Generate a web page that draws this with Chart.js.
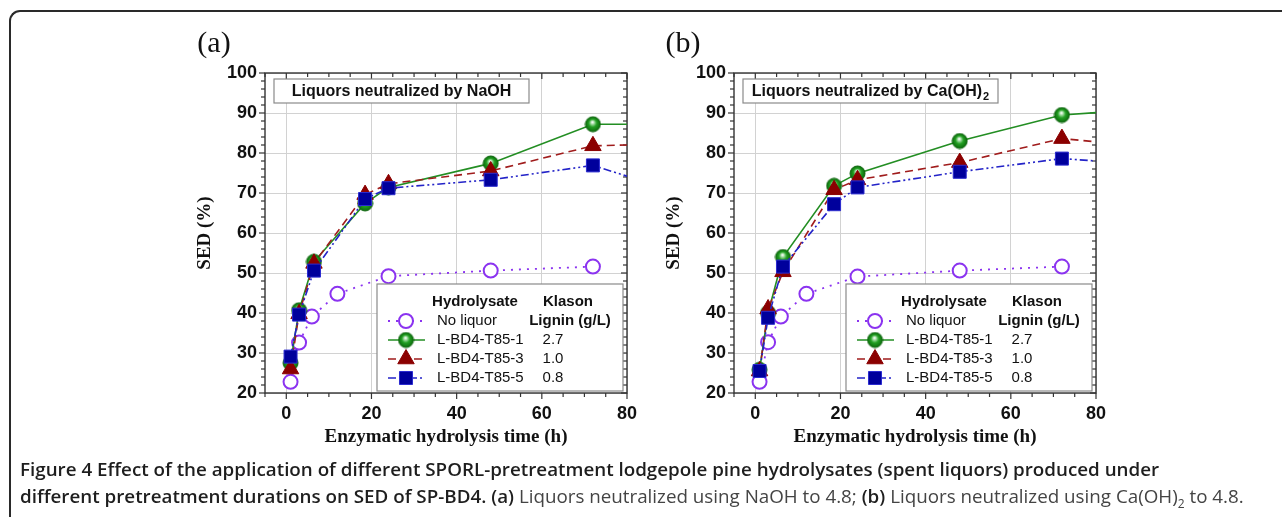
<!DOCTYPE html>
<html>
<head>
<meta charset="utf-8">
<script src="https://cdn.jsdelivr.net/npm/chart.js@4"></script>
<style>
  html, body { margin: 0; padding: 0; background: #fff; overflow: hidden; }
  body { width: 1282px; height: 517px; position: relative; }
  #frame { position: absolute; left: 9px; top: 10px; width: 1500px; height: 700px;
           border-top: 2px solid #2a2a2a; border-left: 2px solid #2a2a2a; border-top-left-radius: 11px; }
  canvas { position: absolute; top: 0; }
  #ca { left: 150px; }
  #cb { left: 619px; }
  #cap { position: absolute; left: 20px; top: 456px; font-family: "Open Sans", sans-serif; font-size: 18.8px;
         line-height: 27px; color: #444; white-space: nowrap; }
  #cap b { font-weight: 600; color: #1e1e1e; }
  #cap sub { font-size: 12px; line-height: 0; }
</style>
</head>
<body>
<div id="frame"></div>
<canvas id="ca" width="490" height="460"></canvas>
<canvas id="cb" width="490" height="460"></canvas>
<div id="cap"><b>Figure 4 Effect of the application of different SPORL-pretreatment lodgepole pine hydrolysates (spent liquors) produced under<br>different pretreatment durations on SED of SP-BD4.</b> <b>(a)</b> Liquors neutralized using NaOH to 4.8; <b>(b)</b> Liquors neutralized using Ca(OH)<sub>2</sub> to 4.8.</div>
<script>
// hydrolysis times (h); the last liquor time is where the fitted curve ends (no marker)
const timesNoLiquor = [1, 3, 6, 12, 24, 48, 72];
const timesLiquor = [1, 3, 6.5, 18.5, 24, 48, 72, 80];

const seriesNames = ['No liquor', 'L-BD4-T85-1', 'L-BD4-T85-3', 'L-BD4-T85-5'];
const ligninValues = ['', '2.7', '1.0', '0.8'];

// (a) neutralized by NaOH
const noLiquorA = [22.8, 32.6, 39.1, 44.8, 49.2, 50.6, 51.6];
const t85_1A = [27.5, 40.7, 52.8, 67.4, 71.4, 77.4, 87.2, 87.2];
const t85_3A = [26.0, 39.8, 52.4, 69.6, 72.3, 75.5, 81.8, 82.0];
const t85_5A = [29.1, 39.6, 50.6, 68.5, 71.2, 73.3, 76.9, 74.2];

// (b) neutralized by Ca(OH)2
const noLiquorB = [22.8, 32.7, 39.1, 44.8, 49.1, 50.6, 51.6];
const t85_1B = [25.8, 40.0, 54.0, 71.8, 74.9, 83.0, 89.5, 90.1];
const t85_3B = [25.5, 41.0, 50.3, 70.8, 73.3, 77.6, 83.6, 82.8];
const t85_5B = [25.5, 38.8, 51.6, 67.2, 71.4, 75.3, 78.6, 78.0];

function pts(times, vals) {
  return vals.map((v, i) => ({ x: times[i], y: v }));
}

// shaded green ball marker
function makeSphere(r) {
  const c = document.createElement('canvas');
  const s = Math.ceil(r * 2 + 2);
  c.width = c.height = s;
  const g = c.getContext('2d');
  const cx = s / 2, cy = s / 2;
  const grad = g.createRadialGradient(cx - 0.5, cy - 2.2, 0.4, cx, cy, r);
  grad.addColorStop(0, '#ffffff');
  grad.addColorStop(0.22, '#9ad89a');
  grad.addColorStop(0.5, '#23a023');
  grad.addColorStop(1, '#0b6a0b');
  g.fillStyle = grad;
  g.beginPath();
  g.arc(cx, cy, r, 0, Math.PI * 2);
  g.fill();
  g.strokeStyle = '#0d650d';
  g.lineWidth = 1;
  g.stroke();
  return c;
}
const sphere = makeSphere(7.5);

const hideLast = r => c => (c.dataIndex === c.dataset.data.length - 1 ? 0 : r);

function makeDatasets(noLiq, s1, s3, s5) {
  return [
    {
      label: seriesNames[0], data: pts(timesNoLiquor, noLiq), order: 3,
      borderColor: '#8b33f0', borderWidth: 1.8, borderDash: [2, 6],
      pointStyle: 'circle', pointRadius: 7, pointBorderWidth: 2,
      pointBorderColor: '#8b33f0', pointBackgroundColor: '#fff'
    },
    {
      label: seriesNames[1], data: pts(timesLiquor, s1), order: 2,
      borderColor: '#238e23', borderWidth: 1.6,
      pointStyle: sphere, pointRadius: hideLast(7.5),
      pointBackgroundColor: '#1f9a1f', pointBorderColor: '#0d650d'
    },
    {
      label: seriesNames[2], data: pts(timesLiquor, s3), order: 1,
      borderColor: '#a01c1c', borderWidth: 1.6, borderDash: [8, 5],
      pointStyle: 'triangle', pointRadius: hideLast(9.5), pointBorderWidth: 1,
      pointBackgroundColor: '#8b0000', pointBorderColor: '#8b0000'
    },
    {
      label: seriesNames[3], data: pts(timesLiquor, s5), order: 0,
      borderColor: '#2323c8', borderWidth: 1.6, borderDash: [8, 3, 2, 3, 2, 3],
      pointStyle: 'rect', pointRadius: hideLast(9.2), pointBorderWidth: 1,
      pointBackgroundColor: '#00009c', pointBorderColor: '#2b2bd0'
    }
  ];
}

function line(ctx, x1, y1, x2, y2) {
  ctx.beginPath();
  ctx.moveTo(x1, y1);
  ctx.lineTo(x2, y2);
  ctx.stroke();
}

// frame, minor/major ticks, panel letter, inset title box and legend table
const panelDecor = {
  id: 'panelDecor',
  beforeDatasetsDraw(chart) {
    const { ctx, chartArea: a, scales: { x, y } } = chart;
    ctx.save();
    ctx.strokeStyle = '#333';
    ctx.lineWidth = 1.4;
    ctx.strokeRect(a.left, a.top, a.right - a.left, a.bottom - a.top);
    ctx.lineWidth = 1.2;
    for (let v = x.min; v <= x.max; v += 5) {
      const px = x.getPixelForValue(v);
      const len = v % 20 === 0 ? 6 : 4;
      line(ctx, px, a.bottom, px, a.bottom + len);
      line(ctx, px, a.top, px, a.top + len);
    }
    for (let v = y.min; v <= y.max; v += 2) {
      const py = y.getPixelForValue(v);
      const len = v % 10 === 0 ? 6 : 4;
      line(ctx, a.left - len, py, a.left, py);
      line(ctx, a.right - len, py, a.right, py);
    }
    ctx.restore();
  },
  afterDatasetsDraw(chart, args, opts) {
    const { ctx, chartArea: a } = chart;
    ctx.save();
    // panel letter
    ctx.fillStyle = '#111';
    ctx.font = '30px "Liberation Serif"';
    ctx.textAlign = 'center';
    ctx.textBaseline = 'middle';
    ctx.fillText(opts.letter, a.left - 51, 44);

    // inset title box
    const tx = a.left + 9, ty = a.top + 6, tw = 255, th = 24;
    ctx.fillStyle = '#fff';
    ctx.fillRect(tx, ty, tw, th);
    ctx.strokeStyle = '#8a8a8a';
    ctx.lineWidth = 1.2;
    ctx.strokeRect(tx, ty, tw, th);
    ctx.fillStyle = '#111';
    const main = opts.title;
    const sub = opts.sub || '';
    ctx.font = 'bold 16px "Liberation Sans"';
    const wMain = ctx.measureText(main).width;
    ctx.font = 'bold 11px "Liberation Sans"';
    const wSub = sub ? ctx.measureText(sub).width + 1 : 0;
    const sx = tx + tw / 2 - (wMain + wSub) / 2;
    ctx.textAlign = 'left';
    ctx.font = 'bold 16px "Liberation Sans"';
    ctx.fillText(main, sx, ty + th / 2 + 1);
    if (sub) {
      ctx.font = 'bold 11px "Liberation Sans"';
      ctx.fillText(sub, sx + wMain + 1, ty + th / 2 + 6);
    }

    // legend table
    const bx = a.left + 112, by = a.top + 211, bw = 246, bh = 107;
    ctx.fillStyle = '#fff';
    ctx.fillRect(bx, by, bw, bh);
    ctx.strokeStyle = '#8a8a8a';
    ctx.strokeRect(bx, by, bw, bh);
    ctx.fillStyle = '#111';
    ctx.textAlign = 'center';
    ctx.font = 'bold 15px "Liberation Sans"';
    ctx.fillText('Hydrolysate', a.left + 210, a.top + 229);
    ctx.fillText('Klason', a.left + 303, a.top + 229);
    ctx.fillText('Lignin (g/L)', a.left + 305, a.top + 248);
    chart.data.datasets.forEach((ds, i) => {
      const ry = a.top + 248 + i * 19;
      ctx.save();
      ctx.strokeStyle = ds.borderColor;
      ctx.lineWidth = ds.borderWidth;
      ctx.setLineDash(ds.borderDash || []);
      line(ctx, a.left + 123, ry, a.left + 160, ry);
      ctx.restore();
      const r = typeof ds.pointRadius === 'function' ? ds.pointRadius({ dataIndex: 0, dataset: ds }) : ds.pointRadius;
      ctx.save();
      ctx.fillStyle = ds.pointBackgroundColor;
      ctx.strokeStyle = ds.pointBorderColor;
      ctx.lineWidth = ds.pointBorderWidth || 1;
      Chart.helpers.drawPoint(ctx, { pointStyle: ds.pointStyle, radius: r, borderWidth: ds.pointBorderWidth || 1, rotation: 0 }, a.left + 141, ry);
      ctx.restore();
      ctx.fillStyle = '#111';
      ctx.font = '15px "Liberation Sans"';
      ctx.textAlign = 'left';
      ctx.fillText(ds.label, a.left + 172, ry);
      if (ligninValues[i]) {
        ctx.textAlign = 'center';
        ctx.fillText(ligninValues[i], a.left + 288, ry);
      }
    });
    ctx.restore();
  }
};

function makeChart(id, datasets, letter, title, sub) {
  const tickFont = { family: '"Liberation Sans", Arial', weight: 'bold', size: 18 };
  const titleFont = { family: '"Liberation Serif", "Times New Roman"', weight: 'bold', size: 19 };
  return new Chart(document.getElementById(id), {
    type: 'line',
    data: { datasets },
    plugins: [panelDecor],
    options: {
      responsive: false,
      animation: false,
      layout: { padding: { top: 73, right: 13, left: 0, bottom: 0 } },
      plugins: {
        legend: { display: false },
        tooltip: { enabled: false },
        panelDecor: { letter, title, sub }
      },
      elements: { line: { tension: 0 } },
      scales: {
        x: {
          type: 'linear', min: -5, max: 80,
          ticks: { stepSize: 20, includeBounds: false, padding: 10, color: '#111', font: tickFont },
          grid: { color: '#d2d2d2', drawTicks: false },
          border: { display: false },
          title: { display: true, text: 'Enzymatic hydrolysis time (h)', color: '#111', font: titleFont, padding: { top: 0, bottom: 12 } },
          afterFit(s) { s.height = 67; s.paddingLeft = 0; s.paddingRight = 0; }
        },
        y: {
          min: 20, max: 100,
          ticks: { stepSize: 10, padding: 8, color: '#111', font: tickFont },
          grid: { color: '#d2d2d2', drawTicks: false },
          border: { display: false },
          title: { display: true, text: 'SED (%)', color: '#111', font: titleFont, padding: { top: 44, bottom: 0 } },
          afterFit(s) { s.width = 115; s.paddingTop = 0; s.paddingBottom = 0; }
        }
      }
    }
  });
}

makeChart('ca', makeDatasets(noLiquorA, t85_1A, t85_3A, t85_5A), '(a)', 'Liquors neutralized by NaOH', '');
makeChart('cb', makeDatasets(noLiquorB, t85_1B, t85_3B, t85_5B), '(b)', 'Liquors neutralized by Ca(OH)', '2');
</script>
</body>
</html>
